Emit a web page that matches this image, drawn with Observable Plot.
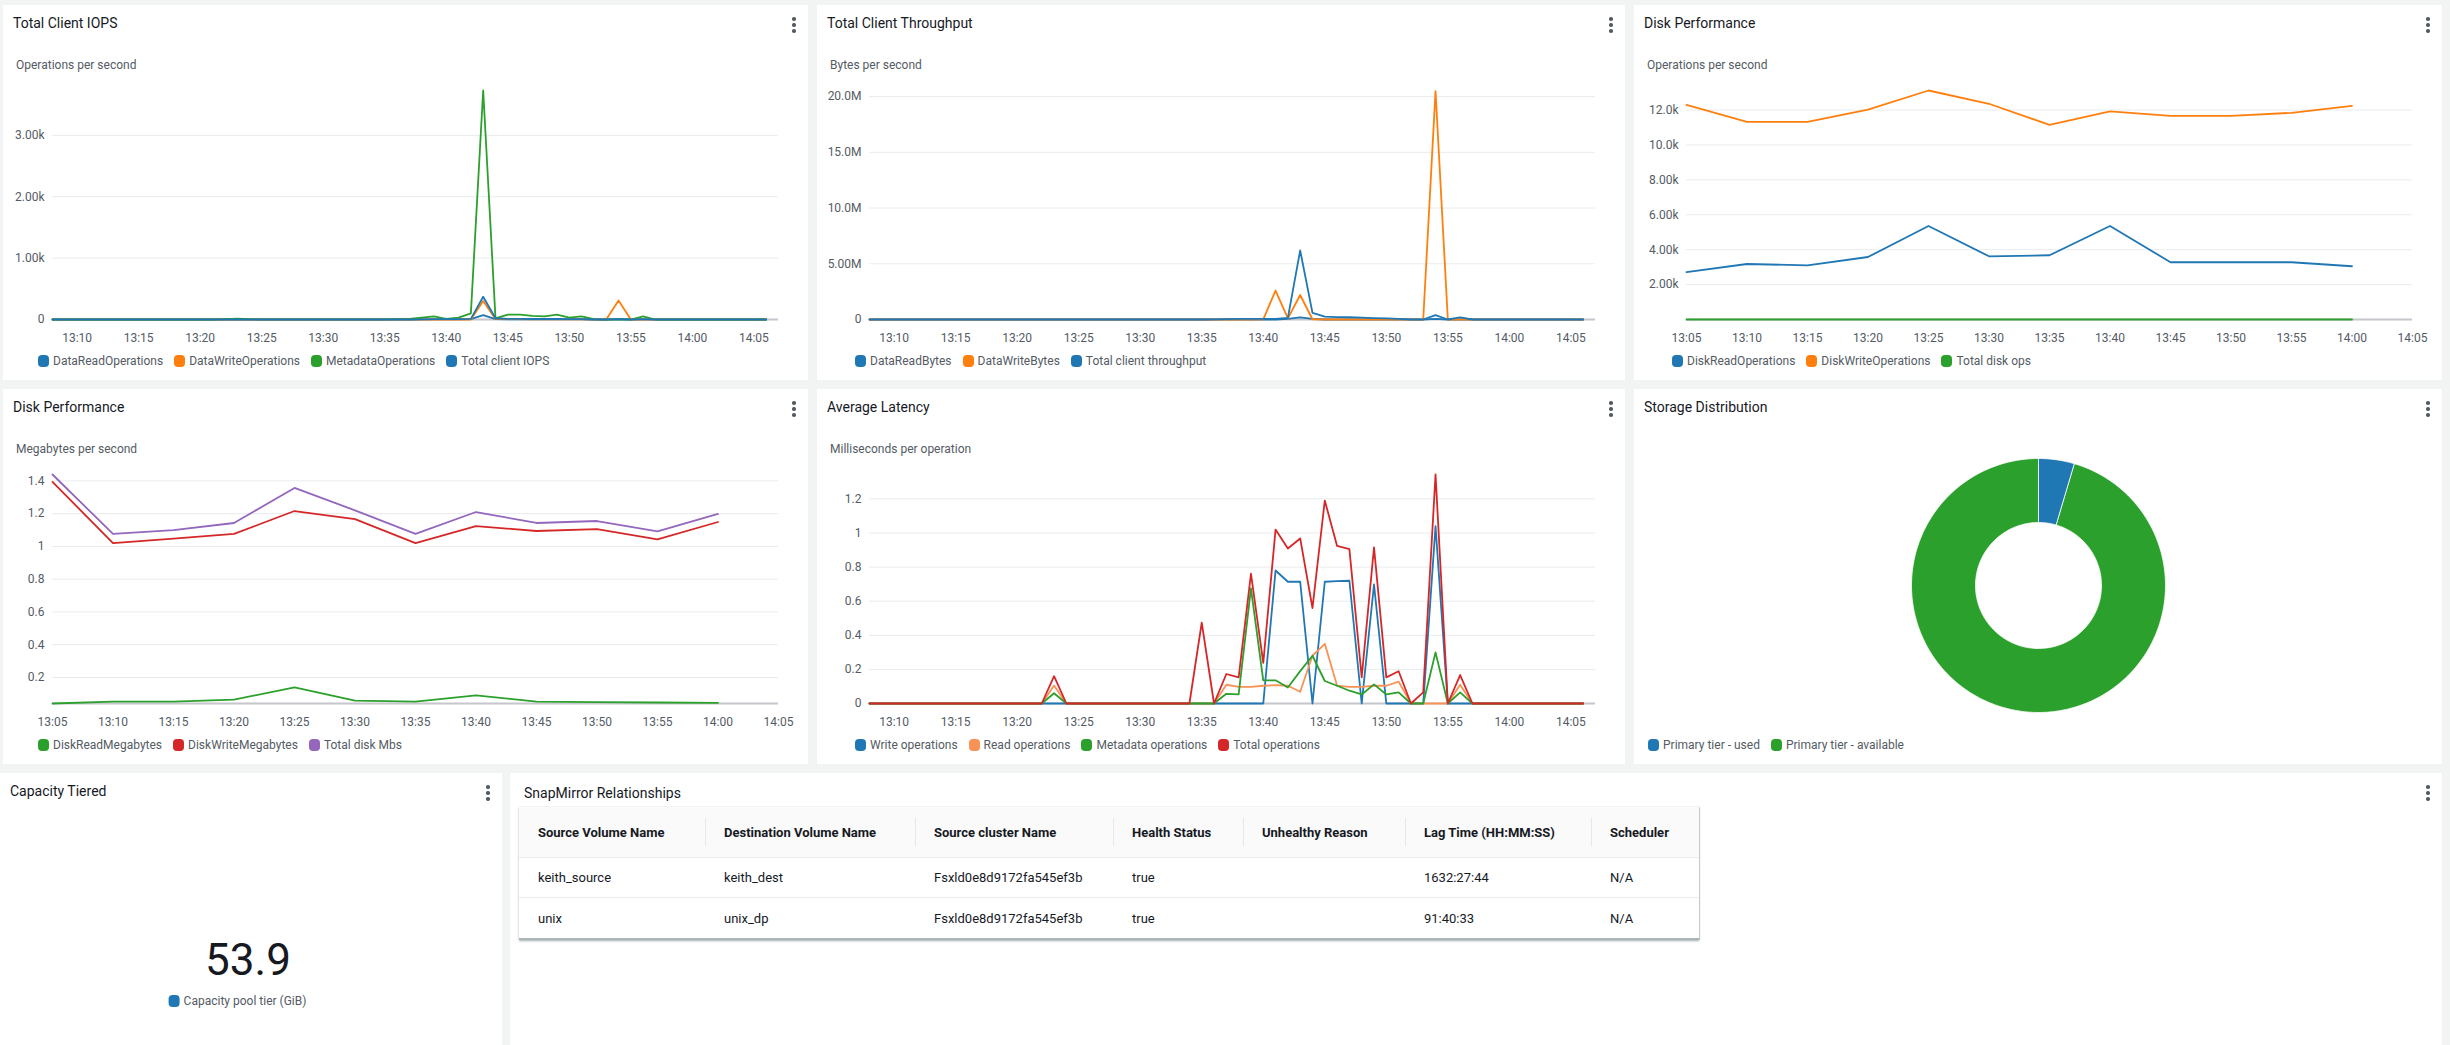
<!DOCTYPE html>
<html><head><meta charset="utf-8">
<script src="https://cdn.jsdelivr.net/npm/d3@7"></script>
<script src="https://cdn.jsdelivr.net/npm/@observablehq/plot@0.6"></script>
<style>
body{margin:0;width:2450px;height:1045px;background:#f2f3f3;font-family:Roboto,"Noto Sans",sans-serif;overflow:hidden;position:relative}
.panel{position:absolute;background:#fff;overflow:hidden}
.title{position:absolute;left:10px;top:10px;font-size:14px;line-height:16px;color:#16191f;white-space:nowrap}
.sub{position:absolute;left:13px;top:53px;font-size:12px;line-height:14px;color:#545b64;white-space:nowrap}
.menu{position:absolute;top:12px;width:4px}
.menu i{display:block;width:3.5px;height:3.5px;border-radius:50%;background:#545b64;margin-bottom:2.5px}
.legend{position:absolute;display:flex;align-items:center;font-size:12px;line-height:14px;color:#545b64;white-space:nowrap}
.item{display:flex;align-items:center;margin-right:11px}
.sw{display:inline-block;width:11px;height:12px;border-radius:4px;margin-right:4px}
.chart{position:absolute;left:0;top:72px}
.big{position:absolute;font-size:44px;color:#16191f;transform:translate(-50%,-50%);white-space:nowrap}
table{position:absolute;left:9px;top:34px;width:1180px;border-collapse:collapse;table-layout:fixed;font-size:13px;color:#16191f;box-shadow:0 1px 2px rgba(0,28,36,0.35),1px 0 1px rgba(0,28,36,0.12)}
th{background:#fafafa;font-weight:bold;text-align:left;height:50px;padding:0 0 0 19px;position:relative;white-space:nowrap}
th+th::before{content:"";position:absolute;left:0;top:11px;height:28px;border-left:1px solid #e6e9e9}
td{height:39px;padding:0 0 0 19px;border-top:1px solid #eaeded;white-space:nowrap}
tr:last-child td{height:40px;border-bottom:2px solid #aab7b8}
</style>
</head><body>
<script>
// ---------- time helpers ----------
const T = (h, m) => new Date(Date.UTC(2023, 0, 1, h, m));
const minuteTimes = d3.utcMinute.range(T(13, 8), T(14, 7));      // 13:08 .. 14:06
const fiveMinTimes = d3.utcMinute.every(5).range(T(13, 5), T(14, 1)); // 13:05 .. 14:00
const ticksFrom1310 = d3.utcMinute.every(5).range(T(13, 10), T(14, 6));
const ticksFrom1305 = d3.utcMinute.every(5).range(T(13, 5), T(14, 6));

// ---------- palette ----------
const cBlue = "#1f77b4", cOrange = "#ff7f0e", cGreen = "#2ca02c", cRed = "#d62728", cPurple = "#9467bd", cLightOrange = "#f89256";

// ---------- Total Client IOPS (per minute 13:08..14:06) ----------
const iopsNames = ["DataReadOperations", "DataWriteOperations", "MetadataOperations", "Total client IOPS"];
const iopsColors = [cBlue, cOrange, cGreen, cBlue];
const iopsRead = [0,0, 0,0,0,0,0,0,0,0,0,0, 0,0,0,0,0,0,0,0,0,0, 0,0,0,0,0,0,0,0,2,3, 2,2,5,70,5,3,3,2,2,2, 2,2,0,0,5,0,2,0,0,0, 0,0,0,0,0,0,0];
const iopsWrite = [0,0, 0,0,0,0,0,0,0,0,0,0, 0,0,0,0,0,0,0,0,0,0, 0,0,0,0,0,0,0,0,0,0, 0,0,0,300,10,5,5,3,3,3, 3,3,0,0,310,0,3,0,0,0, 0,0,0,0,0,0,0];
const iopsMeta = [0,0, 0,0,0,0,0,0,0,0,0,0, 0,0,5,12,5,2,2,2,2,2, 2,2,2,2,3,3,5,10,30,50, 10,30,100,3730,20,80,80,60,50,80, 30,50,5,0,0,0,50,0,0,0, 0,0,0,0,0,0,0];
const iopsTotal = [0,0, 0,0,0,0,0,0,0,0,0,0, 0,0,0,0,0,0,0,0,0,0, 0,0,0,0,0,0,0,0,3,5, 5,5,10,370,20,10,10,8,8,8, 6,6,0,0,5,0,5,0,0,0, 0,0,0,0,0,0,0];
const iopsYTicks = [0, 1000, 2000, 3000];
const iopsYLabels = ["0", "1.00k", "2.00k", "3.00k"];

// ---------- Total Client Throughput (bytes/s) ----------
const tpNames = ["DataReadBytes", "DataWriteBytes", "Total client throughput"];
const tpColors = [cBlue, cOrange, cBlue];
const tpRead = [0,0, 0,0,0,0,0,0,0,0,0,0, 0,0,0,0,0,0,0,0,0,0, 0,0,0,0,0,0,0,0,0,0, 0,0,5e4,2e5,5e4,0,0,0,0,0, 0,0,0,0,5e4,0,0,0,0,0, 0,0,0,0,0,0,0];
const tpWrite = [0,0, 0,0,0,0,0,0,0,0,0,0, 0,0,0,0,0,0,0,0,0,0, 0,0,0,0,0,0,0,0,0,0, 2e4,2.6e6,1e5,2.2e6,2e4,0,0,0,0,0, 0,0,0,0,2.05e7,0,2e4,0,0,0, 0,0,0,0,0,0,0];
const tpTotal = [0,0, 0,0,0,0,0,0,0,0,0,0, 0,0,0,0,0,0,0,0,0,0, 0,0,0,0,0,0,2e4,3e4,5e4,5e4, 5e4,6e4,1.5e5,6.2e6,6e5,2.5e5,2.2e5,2e5,1.6e5,1.2e5, 1e5,5e4,0,0,4e5,0,2e5,0,0,0, 0,0,0,0,0,0,0];
const tpYTicks = [0, 5e6, 10e6, 15e6, 20e6];
const tpYLabels = ["0", "5.00M", "10.0M", "15.0M", "20.0M"];

// ---------- Disk Performance ops (5 min 13:05..14:00) ----------
const dpNames = ["DiskReadOperations", "DiskWriteOperations", "Total disk ops"];
const dpColors = [cBlue, cOrange, cGreen];
const dpRead = [2720, 3180, 3100, 3580, 5360, 3620, 3680, 5360, 3280, 3280, 3280, 3050];
const dpWrite = [12300, 11320, 11320, 12030, 13120, 12360, 11150, 11920, 11670, 11670, 11840, 12240];
const dpTotal = [0, 0, 0, 0, 0, 0, 0, 0, 0, 0, 0, 0];
const dpYTicks = [2000, 4000, 6000, 8000, 10000, 12000];
const dpYLabels = ["2.00k", "4.00k", "6.00k", "8.00k", "10.0k", "12.0k"];

// ---------- Disk Performance MB/s ----------
const mbNames = ["DiskReadMegabytes", "DiskWriteMegabytes", "Total disk Mbs"];
const mbColors = [cGreen, cRed, cPurple];
const mbRead = [0.041, 0.053, 0.053, 0.065, 0.139, 0.059, 0.053, 0.09, 0.053, 0.049, 0.047, 0.045];
const mbWrite = [1.394, 1.02, 1.047, 1.076, 1.216, 1.167, 1.02, 1.124, 1.094, 1.106, 1.043, 1.149];
const mbTotal = [1.439, 1.076, 1.10, 1.143, 1.357, 1.22, 1.076, 1.21, 1.143, 1.155, 1.092, 1.198];
const mbYTicks = [0.2, 0.4, 0.6, 0.8, 1, 1.2, 1.4];
const mbYLabels = ["0.2", "0.4", "0.6", "0.8", "1", "1.2", "1.4"];

// ---------- Average Latency (ms/op, per minute) ----------
const latNames = ["Write operations", "Read operations", "Metadata operations", "Total operations"];
const latColors = [cBlue, cLightOrange, cGreen, cRed];
const latWrite = [0,0, 0,0,0,0,0,0,0,0,0,0, 0,0,0,0,0,0,0,0,0,0, 0,0,0,0,0,0,0,0,0,0, 0,0.78,0.714,0.714,0,0.714,0.718,0.72,0,0.698, 0,0,0,0,1.04,0,0,0,0,0, 0,0,0,0,0,0,0];
const latRead = [0,0, 0,0,0,0,0,0,0,0,0,0, 0,0,0,0.105,0,0,0,0,0,0, 0,0,0,0,0,0,0,0.11,0.098,0.098, 0.104,0.108,0.104,0.069,0.28,0.35,0.104,0.098,0.098,0.104, 0.104,0.128,0,0,0,0,0.11,0,0,0, 0,0,0,0,0,0,0];
const latMeta = [0,0, 0,0,0,0,0,0,0,0,0,0, 0,0,0,0.06,0,0,0,0,0,0, 0,0,0,0,0,0,0,0.057,0.053,0.675, 0.136,0.136,0.094,0.19,0.28,0.132,0.104,0.075,0.053,0.112, 0.053,0.065,0,0,0.30,0,0.065,0,0,0, 0,0,0,0,0,0,0];
const latTotal = [0,0, 0,0,0,0,0,0,0,0,0,0, 0,0,0,0.16,0,0,0,0,0,0, 0,0,0,0,0,0.474,0,0.173,0.153,0.761, 0.238,1.02,0.909,0.968,0.56,1.19,0.924,0.905,0.153,0.916, 0.153,0.189,0,0.065,1.343,0,0.167,0,0,0, 0,0,0,0,0,0,0];
const latYTicks = [0, 0.2, 0.4, 0.6, 0.8, 1, 1.2];
const latYLabels = ["0", "0.2", "0.4", "0.6", "0.8", "1", "1.2"];

// ---------- Storage Distribution ----------
const storageNames = ["Primary tier - used", "Primary tier - available"];
const storageValues = [4.6, 95.4];
const storageColors = [cBlue, cGreen];

// ---------- Capacity Tiered ----------
const capacityLabel = ["Capacity pool tier (GiB)"];
const capacityValue = [53.9];

// ---------- SnapMirror ----------
const smColumns = ["Source Volume Name", "Destination Volume Name", "Source cluster Name", "Health Status", "Unhealthy Reason", "Lag Time (HH:MM:SS)", "Scheduler"];
const smRows = [
  ["keith_source", "keith_dest", "Fsxld0e8d9172fa545ef3b", "true", "", "1632:27:44", "N/A"],
  ["unix", "unix_dp", "Fsxld0e8d9172fa545ef3b", "true", "", "91:40:33", "N/A"]
];

// ================= builders =================
function el(tag, cls, parent, css) {
  const e = document.createElement(tag);
  if (cls) e.className = cls;
  if (css) Object.assign(e.style, css);
  if (parent) parent.appendChild(e);
  return e;
}
function panel(left, top, width, height, title) {
  const p = el("div", "panel", document.body, {left: left + "px", top: top + "px", width: width + "px", height: height + "px"});
  el("div", "title", p).textContent = title;
  const m = el("div", "menu", p, {left: (width - 16) + "px"});
  for (let i = 0; i < 3; i++) el("i", null, m);
  return p;
}
function legend(parent, names, colors, left, top) {
  const L = el("div", "legend", parent, {left: left + "px", top: top + "px"});
  names.forEach((n, i) => {
    const it = el("span", "item", L);
    el("span", "sw", it, {background: colors[i]});
    el("span", null, it).textContent = n;
  });
  return L;
}
function lineChart(o) {
  const data = [];
  o.names.forEach((name, k) => o.values[k].forEach((v, i) => data.push({t: o.times[i], v, name})));
  const fmtY = new Map(o.yTicks.map((t, i) => [t, o.yLabels[i]]));
  const grid = o.yTicks.filter(t => t !== 0);
  return Plot.plot({
    width: o.width, height: 275, marginTop: 13, marginBottom: 33, marginLeft: o.ml, marginRight: o.mr,
    style: {fontFamily: "Roboto, sans-serif", fontSize: "12px", color: "#545b64", background: "transparent", overflow: "visible"},
    x: {type: "utc", domain: o.xDomain},
    y: {domain: o.yDomain},
    color: {domain: o.names, range: o.colors},
    marks: [
      Plot.gridY(grid, {stroke: "#e9ebed", strokeOpacity: 1, strokeWidth: 1}),
      Plot.ruleY([o.yDomain[0]], {stroke: "#c6c6cd", strokeWidth: 2}),
      Plot.axisY(o.yTicks, {tickSize: 0, tickPadding: 8, tickFormat: d => fmtY.get(d), label: null}),
      Plot.axisX(o.xTicks, {tickSize: 0, tickPadding: 14, tickFormat: d3.utcFormat("%H:%M"), label: null}),
      Plot.line(data, {x: "t", y: "v", z: "name", stroke: "name", strokeWidth: 1.8})
    ]
  });
}
function linePanel(left, top, width, title, sub, o) {
  const p = panel(left, top, width, 375, title);
  el("div", "sub", p).textContent = sub;
  const c = el("div", "chart", p);
  c.appendChild(lineChart({...o, width}));
  legend(p, o.names, o.colors, o.ml - 14, 349);
}

// Row 1
linePanel(3, 5, 805, "Total Client IOPS", "Operations per second", {
  names: iopsNames, colors: iopsColors, values: [iopsRead, iopsWrite, iopsMeta, iopsTotal], times: minuteTimes,
  xDomain: [T(13, 8), T(14, 7)], xTicks: ticksFrom1310, yDomain: [0, 3730], yTicks: iopsYTicks, yLabels: iopsYLabels, ml: 49, mr: 30
});
linePanel(817, 5, 808, "Total Client Throughput", "Bytes per second", {
  names: tpNames, colors: tpColors, values: [tpRead, tpWrite, tpTotal], times: minuteTimes,
  xDomain: [T(13, 8), T(14, 7)], xTicks: ticksFrom1310, yDomain: [0, 2.055e7], yTicks: tpYTicks, yLabels: tpYLabels, ml: 52, mr: 30
});
linePanel(1634, 5, 808, "Disk Performance", "Operations per second", {
  names: dpNames, colors: dpColors, values: [dpRead, dpWrite, dpTotal], times: fiveMinTimes,
  xDomain: [T(13, 5), T(14, 5)], xTicks: ticksFrom1305, yDomain: [0, 13120], yTicks: dpYTicks, yLabels: dpYLabels, ml: 52, mr: 30
});
// Row 2
linePanel(3, 389, 805, "Disk Performance", "Megabytes per second", {
  names: mbNames, colors: mbColors, values: [mbRead, mbWrite, mbTotal], times: fiveMinTimes,
  xDomain: [T(13, 5), T(14, 5)], xTicks: ticksFrom1305, yDomain: [0.041, 1.439], yTicks: mbYTicks, yLabels: mbYLabels, ml: 49, mr: 30
});
linePanel(817, 389, 808, "Average Latency", "Milliseconds per operation", {
  names: latNames, colors: latColors, values: [latWrite, latRead, latMeta, latTotal], times: minuteTimes,
  xDomain: [T(13, 8), T(14, 7)], xTicks: ticksFrom1310, yDomain: [0, 1.343], yTicks: latYTicks, yLabels: latYLabels, ml: 52, mr: 30
});

// Storage distribution donut
{
  const p = panel(1634, 389, 808, 375, "Storage Distribution");
  const total = d3.sum(storageValues);
  const inner = 63 / 127, outer = 1;
  let acc = 0;
  const pt = (r, a) => [r * Math.sin(a), -r * Math.cos(a)];
  const features = storageNames.map((name, i) => {
    const a0 = acc / total * 2 * Math.PI;
    acc += storageValues[i];
    const a1 = acc / total * 2 * Math.PI;
    const n = Math.max(2, Math.ceil((a1 - a0) / (Math.PI / 180)));
    const ring = [];
    for (let k = 0; k <= n; k++) ring.push(pt(outer, a0 + (a1 - a0) * k / n));
    for (let k = n; k >= 0; k--) ring.push(pt(inner, a0 + (a1 - a0) * k / n));
    ring.push(ring[0]);
    return {type: "Feature", properties: {name}, geometry: {type: "Polygon", coordinates: [ring]}};
  });
  const chart = Plot.plot({
    width: 260, height: 260, margin: 3,
    style: {background: "transparent"},
    projection: {type: "identity", domain: {type: "Polygon", coordinates: [[[-1, -1], [1, -1], [1, 1], [-1, 1], [-1, -1]]]}},
    color: {domain: storageNames, range: storageColors},
    marks: [Plot.geo(features, {fill: d => d.properties.name, stroke: "white", strokeWidth: 0.8})]
  });
  const c = el("div", null, p, {position: "absolute", left: (404 - 130) + "px", top: (196 - 130) + "px"});
  c.appendChild(chart);
  legend(p, storageNames, storageColors, 14, 349);
}

// Capacity Tiered
{
  const p = panel(0, 773, 502, 272, "Capacity Tiered");
  el("div", "big", p, {left: "248px", top: "187px"}).textContent = capacityValue[0].toFixed(1);
  const L = legend(p, capacityLabel, [cBlue], 0, 221);
  L.style.left = "243px"; L.style.transform = "translateX(-50%)";
}

// SnapMirror
{
  const p = panel(510, 773, 1932, 272, "SnapMirror Relationships");
  p.querySelector(".title").style.top = "12px";
  p.querySelector(".title").style.left = "14px";
  const widths = [186, 210, 198, 130, 162, 186, 108];
  const t = el("table", null, p);
  const cg = el("colgroup", null, t);
  widths.forEach(w => el("col", null, cg, {width: w + "px"}));
  const hr = el("tr", null, el("thead", null, t));
  smColumns.forEach(c => el("th", null, hr).textContent = c);
  const tb = el("tbody", null, t);
  smRows.forEach(r => { const tr = el("tr", null, tb); r.forEach(v => el("td", null, tr).textContent = v); });
}
</script>
</body></html>
